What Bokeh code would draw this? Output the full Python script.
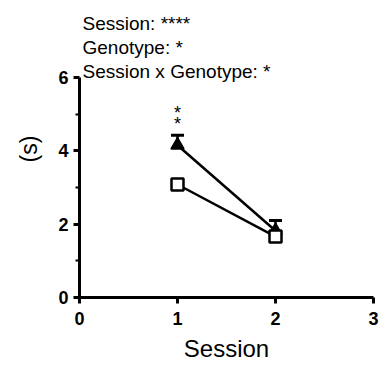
from bokeh.plotting import figure
from bokeh.models import Range1d, Label, Whisker, TeeHead, ColumnDataSource, FixedTicker
from bokeh.embed import file_html
from bokeh.resources import INLINE

# ---- data ----
sessions = [1, 2]
tri_mean = [4.15, 1.82]
tri_sem = [0.27, 0.28]
sq_mean = [3.08, 1.66]
sq_sem = [0.12, 0.10]
stats_lines = ["Session: ****", "Genotype: *", "Session x Genotype: *"]
sig_marks = ["*", "*"]
x_ticks = [0, 1, 2, 3]
y_ticks = [0, 2, 4, 6]

FONT = "Liberation Sans"
Y_TOP = 6 + 77 / 36.75  # extra headroom for the statistics text

p = figure(width=391, height=365, output_backend="svg", toolbar_location=None,
           x_range=Range1d(0, 3), y_range=Range1d(0, Y_TOP),
           min_border_left=79, min_border_right=18, min_border_top=0, min_border_bottom=68)
p.outline_line_color = None
p.xgrid.visible = False
p.ygrid.visible = False
p.background_fill_color = "white"
p.border_fill_color = "white"

for ax in (p.xaxis[0], p.yaxis[0]):
    ax.axis_line_width = 3
    ax.axis_line_color = "black"
    ax.major_tick_line_width = 3
    ax.major_tick_line_color = "black"
    ax.major_tick_in = 0
    ax.major_tick_out = 6
    ax.major_label_text_font = FONT
    ax.major_label_text_font_style = "bold"
    ax.major_label_text_font_size = "18px"
    ax.major_label_text_color = "black"
    ax.axis_label_text_font = FONT
    ax.axis_label_text_font_style = "normal"
    ax.axis_label_text_color = "black"

p.xaxis.ticker = FixedTicker(ticks=x_ticks)
p.xaxis.minor_tick_line_color = None
p.xaxis.axis_label = "Session"
p.xaxis.axis_label_text_font_size = "24px"
p.xaxis.major_label_standoff = 8
p.xaxis.axis_label_standoff = 7

p.yaxis.ticker = FixedTicker(ticks=y_ticks, minor_ticks=[1, 3, 5])
p.yaxis.bounds = (0, 6)
p.yaxis.minor_tick_line_width = 2
p.yaxis.minor_tick_line_color = "black"
p.yaxis.minor_tick_in = 0
p.yaxis.minor_tick_out = 4
p.yaxis.axis_label = "(s)"
p.yaxis.axis_label_text_font_size = "23px"
p.yaxis.major_label_standoff = 5
p.yaxis.axis_label_standoff = 13

tri = ColumnDataSource(dict(x=sessions, y=tri_mean,
                            up=[m + s for m, s in zip(tri_mean, tri_sem)]))
sq = ColumnDataSource(dict(x=sessions, y=sq_mean,
                           up=[m + s for m, s in zip(sq_mean, sq_sem)]))

p.line("x", "y", source=tri, line_color="black", line_width=2.5)
p.line("x", "y", source=sq, line_color="black", line_width=2.5)

for src in (tri, sq):
    w = Whisker(source=src, base="x", upper="up", lower="y", dimension="height",
                line_color="black", line_width=2.5,
                upper_head=TeeHead(size=13, line_width=3, line_color="black"),
                lower_head=None)
    p.add_layout(w)

p.scatter("x", "y", source=tri, marker="triangle", size=13,
          fill_color="black", line_color="black", line_width=1.5)
p.scatter("x", "y", source=sq, marker="square", size=12,
          fill_color="white", line_color="black", line_width=2.5)

# significance stars above session 1
top1 = tri_mean[0] + tri_sem[0]
star_offsets = [22, 11]
for s, off in zip(sig_marks, star_offsets):
    p.add_layout(Label(x=sessions[0], y=top1, text=s, text_align="center",
                       text_baseline="alphabetic", y_offset=off,
                       text_font=FONT, text_font_size="18px", text_color="black"))

# statistics text above plot
base_y = [7.46, 6.82, 6.16]
for t, yy in zip(stats_lines, base_y):
    p.add_layout(Label(x=0, y=yy, x_offset=3, text=t, text_align="left",
                       text_baseline="alphabetic", text_font=FONT,
                       text_font_size="19px", text_color="black"))

open("out.html", "w").write(file_html(p, INLINE))
